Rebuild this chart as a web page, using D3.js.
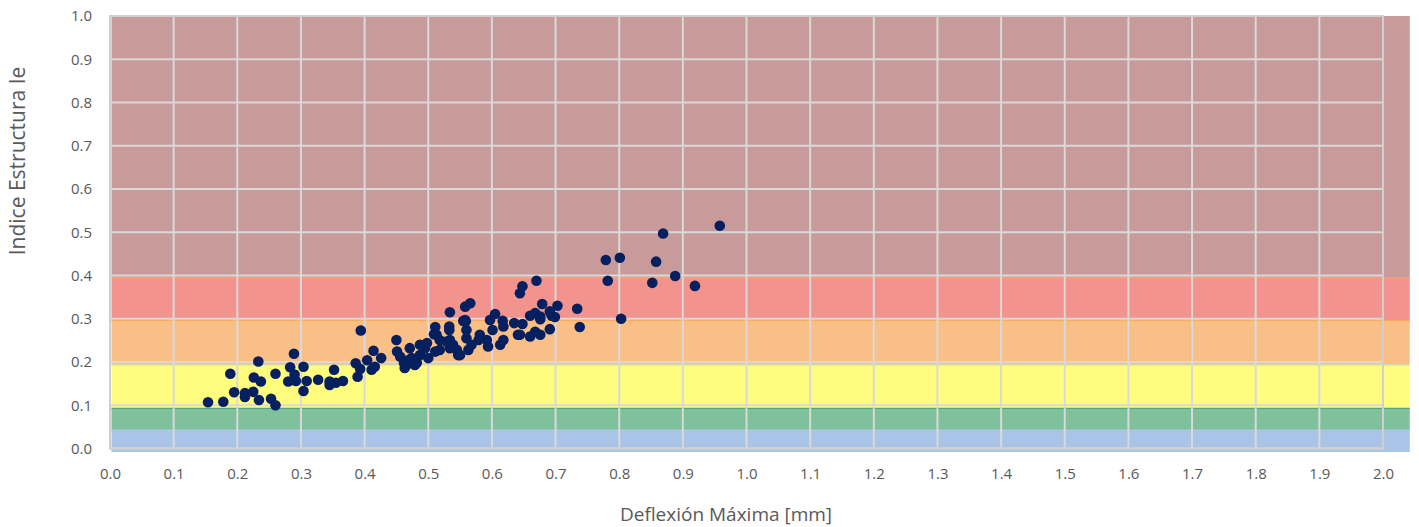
<!DOCTYPE html>
<html>
<head>
<meta charset="utf-8">
<script src="https://cdn.jsdelivr.net/npm/d3@7"></script>
<style>
  html, body { margin: 0; padding: 0; background: #fff; }
  svg text { font-family: "Segoe UI", "Open Sans", "Noto Sans", sans-serif; fill: #595959; }
</style>
</head>
<body>
<svg id="chart" width="1419" height="527"></svg>
<script>
// ---------- data ----------
const xTicks = d3.range(0, 21).map(i => i / 10);
const yTicks = d3.range(0, 11).map(i => i / 10);
const xTickLabels = xTicks.map(v => v.toFixed(1));
const yTickLabels = yTicks.map(v => v.toFixed(1));

const bandBounds = [0, 0.05, 0.1, 0.2, 0.3, 0.4, 1.0];
const bandColors = ["#A9C4E7", "#7FC19B", "#FFFC7E", "#F9BF87", "#F2948D", "#C99A9A"];
const bandEdgeColors = ["#A9C4E7", "#4FA58A", "#C6E0B0", "#FFC04D", "#F3A27A", "#D2605A"];
const bandXExtent = [0, 2.042];

const deflexion = [
  0.154, 0.178, 0.189, 0.195, 0.212, 0.212, 0.225, 0.226, 0.233, 0.237,
  0.234, 0.253, 0.260, 0.260, 0.280, 0.283, 0.289, 0.290, 0.292, 0.304,
  0.309, 0.304, 0.327, 0.345, 0.345, 0.352, 0.355, 0.366, 0.411,
  0.394, 0.386, 0.393, 0.389, 0.404, 0.414, 0.426, 0.416, 0.450, 0.451,
  0.456, 0.462, 0.463, 0.471, 0.474, 0.479, 0.487, 0.487, 0.513, 0.534,
  0.547, 0.558, 0.560, 0.466, 0.482, 0.470,
  0.566, 0.558, 0.534, 0.555, 0.559, 0.533, 0.533, 0.511, 0.509, 0.518,
  0.498, 0.495, 0.500, 0.511, 0.518, 0.529, 0.534, 0.539, 0.545, 0.550,
  0.560, 0.563, 0.568, 0.581, 0.579, 0.592, 0.594, 0.597, 0.605, 0.601,
  0.613, 0.618, 0.617, 0.618, 0.635, 0.641,
  0.670, 0.648, 0.644, 0.679, 0.703, 0.660, 0.668, 0.676, 0.676, 0.691,
  0.694, 0.699, 0.734, 0.648, 0.644, 0.668, 0.660, 0.676, 0.691, 0.738,
  0.779, 0.801, 0.782, 0.803, 0.852, 0.858, 0.869, 0.888, 0.919, 0.958
];
const indice = [
  0.107, 0.108, 0.173, 0.130, 0.128, 0.119, 0.131, 0.164, 0.201, 0.155,
  0.112, 0.115, 0.100, 0.173, 0.155, 0.188, 0.219, 0.171, 0.156, 0.189,
  0.156, 0.133, 0.159, 0.155, 0.147, 0.182, 0.152, 0.156, 0.182,
  0.273, 0.197, 0.184, 0.166, 0.204, 0.226, 0.209, 0.189, 0.251, 0.224,
  0.212, 0.197, 0.186, 0.232, 0.209, 0.193, 0.240, 0.216, 0.263, 0.251,
  0.216, 0.297, 0.255, 0.193, 0.198, 0.205,
  0.336, 0.328, 0.315, 0.295, 0.294, 0.282, 0.274, 0.281, 0.264, 0.251,
  0.244, 0.232, 0.209, 0.224, 0.228, 0.247, 0.232, 0.240, 0.228, 0.216,
  0.274, 0.228, 0.240, 0.263, 0.251, 0.251, 0.236, 0.297, 0.311, 0.274,
  0.240, 0.251, 0.295, 0.282, 0.290, 0.263,
  0.388, 0.375, 0.359, 0.334, 0.330, 0.307, 0.313, 0.305, 0.299, 0.317,
  0.307, 0.304, 0.323, 0.288, 0.263, 0.270, 0.259, 0.263, 0.276, 0.281,
  0.436, 0.441, 0.388, 0.300, 0.383, 0.432, 0.497, 0.399, 0.376, 0.515
];
const points = deflexion.map((d, i) => ({ x: d, y: indice[i] }));

// ---------- layout ----------
const svg = d3.select("#chart");
const pLeft = 110, pRight = 1383, pTop = 16, pBottom = 448.5;

const x = d3.scaleLinear().domain([0, 2]).range([pLeft, pRight]);
const y = d3.scaleLinear().domain([0, 1]).range([pBottom, pTop]);
const yBand = d3.scaleLinear().domain([0, 1]).range([pBottom + 3.5, pTop]);

// bands
const bands = bandColors.map((c, i) => ({ lo: bandBounds[i], hi: bandBounds[i + 1], color: c, edge: bandEdgeColors[i] }));
svg.append("g").selectAll("rect").data(bands).join("rect")
  .attr("x", x(bandXExtent[0]) + 1.5)
  .attr("width", x(bandXExtent[1]) - x(bandXExtent[0]) - 1.5)
  .attr("y", d => yBand(d.hi))
  .attr("height", d => yBand(d.lo) - yBand(d.hi))
  .attr("fill", d => d.color);
svg.append("g").selectAll("line").data(bands.filter(d => d.hi < 1)).join("line")
  .attr("x1", x(bandXExtent[0]) + 1.5).attr("x2", x(bandXExtent[1]))
  .attr("y1", d => yBand(d.hi)).attr("y2", d => yBand(d.hi))
  .attr("stroke", d => d.edge).attr("stroke-width", 1.2);

// gridlines
const grid = svg.append("g").attr("stroke", "#D9D9D9").attr("stroke-width", 2);
grid.selectAll(".gx").data(xTicks).join("line").attr("class", "gx")
  .attr("x1", d => x(d)).attr("x2", d => x(d)).attr("y1", pTop).attr("y2", pBottom);
grid.selectAll(".gy").data(yTicks).join("line").attr("class", "gy")
  .attr("y1", d => y(d)).attr("y2", d => y(d)).attr("x1", pLeft).attr("x2", pRight);

// plot border
svg.append("rect").attr("x", pLeft).attr("y", pTop).attr("width", pRight - pLeft).attr("height", pBottom - pTop)
  .attr("fill", "none").attr("stroke", "#CFCFCF").attr("stroke-width", 2);

// axes
const xAxis = d3.axisBottom(x).tickValues(xTicks).tickFormat((d, i) => xTickLabels[i]).tickSize(0).tickPadding(20);
const yAxis = d3.axisLeft(y).tickValues(yTicks).tickFormat((d, i) => yTickLabels[i]).tickSize(0).tickPadding(18);
const gx = svg.append("g").attr("transform", `translate(0,${pBottom})`).call(xAxis);
const gy = svg.append("g").attr("transform", `translate(${pLeft},0)`).call(yAxis);
[gx, gy].forEach(g => {
  g.select(".domain").remove();
  g.selectAll("text").style("font-size", "15px").attr("fill", "#595959")
   .style("font-family", '"Segoe UI", "Open Sans", "Noto Sans", sans-serif');
});

// points
svg.append("g").selectAll("circle").data(points).join("circle")
  .attr("cx", d => x(d.x)).attr("cy", d => y(d.y)).attr("r", 5.3)
  .attr("fill", "#06205F");

// titles
svg.append("text").attr("x", 726).attr("y", 521).attr("text-anchor", "middle")
  .style("font-size", "19px").text("Deflexión Máxima [mm]");
svg.append("text").attr("transform", "translate(25,161) rotate(-90)").attr("text-anchor", "middle")
  .style("font-size", "21px").text("Indice Estructura Ie");
</script>
</body>
</html>
